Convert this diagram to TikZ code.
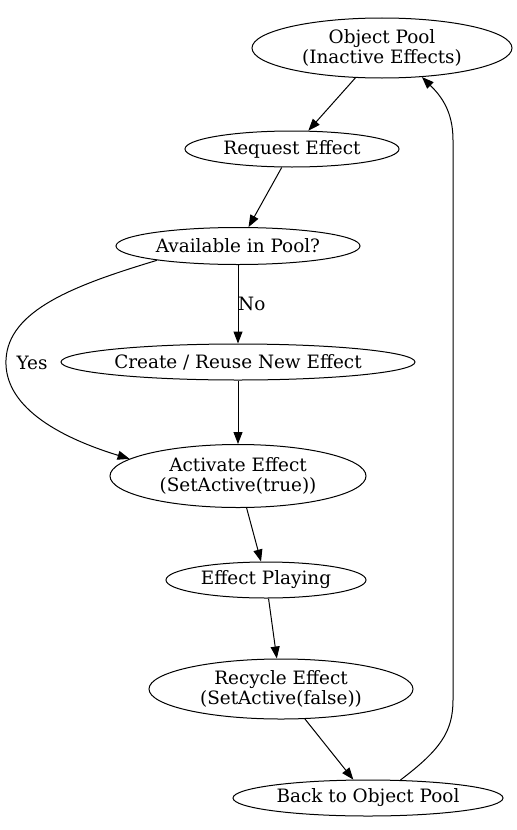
\documentclass[tikz,border=0pt]{standalone}
\usepackage{fontspec}
\setmainfont{DejaVu Serif}
\usetikzlibrary{shapes.geometric,arrows.meta}
\begin{document}
\begin{tikzpicture}[x=1bp,y=-1bp,
  every node/.style={font=\fontsize{18.4bp}{20bp}\selectfont},
  ell/.style={ellipse,draw,line width=1bp,inner sep=0pt,align=center},
  edge/.style={draw,line width=1bp,-{Triangle[length=12bp,width=9bp]}},
  lbl/.style={inner sep=1bp}]
\useasboundingbox (0,0) rectangle (517,830);
\node[ell,minimum width=260bp,minimum height=60bp] (obj) at (382,48) {Object Pool\\(Inactive Effects)};
\node[ell,minimum width=214bp,minimum height=36bp] (req) at (292,149) {Request Effect};
\node[ell,minimum width=244bp,minimum height=37bp] (avail) at (238,246) {Available in Pool?};
\node[ell,minimum width=354bp,minimum height=36bp] (create) at (238,362) {Create / Reuse New Effect};
\node[ell,minimum width=256bp,minimum height=63bp] (act) at (238,476) {Activate Effect\\(SetActive(true))};
\node[ell,minimum width=200bp,minimum height=36bp] (play) at (266,580) {Effect Playing};
\node[ell,minimum width=264bp,minimum height=60bp] (rec) at (281,689) {Recycle Effect\\(SetActive(false))};
\node[ell,minimum width=270bp,minimum height=36bp] (back) at (368,798) {Back to Object Pool};

\draw[edge] (obj) -- (req);
\draw[edge] (req) -- (avail);
\draw[edge] (avail) -- (create);
\node[lbl,anchor=west] (nolbl) at (237,304) {No};
\draw[edge] (avail.190) .. controls (75,285) and (8,310) .. (6,360) .. controls (4,405) and (55,436) .. (act.171);
\node[lbl] (yeslbl) at (32,363) {Yes};
\draw[edge] (create) -- (act);
\draw[edge] (act) -- (play);
\draw[edge] (play) -- (rec);
\draw[edge] (rec) -- (back);
\draw[edge] (back.29) .. controls (440,750) and (453,732) .. (453,700) -- (453,140) .. controls (453,110) and (440,95) .. (obj.-36);
\end{tikzpicture}
\end{document}
